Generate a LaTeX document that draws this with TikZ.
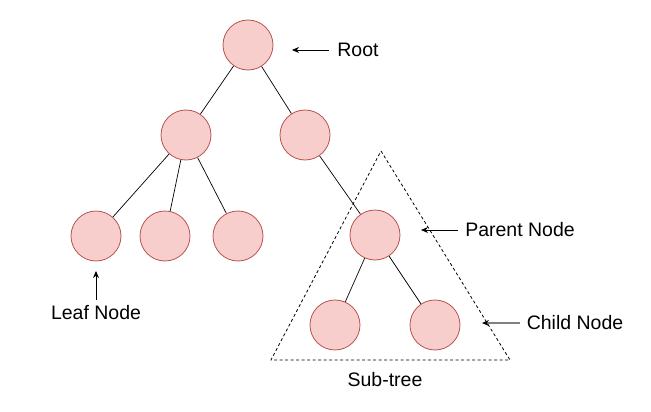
\documentclass[tikz,border=0pt]{standalone}
\usepackage{fontspec}
\setmainfont{Liberation Sans}
\usetikzlibrary{arrows.meta}
\definecolor{nodefill}{HTML}{F8CECC}
\definecolor{nodeline}{HTML}{B85450}
\definecolor{midgray}{RGB}{128,128,128}
\begin{document}
\begin{tikzpicture}[x=1pt,y=-1pt,
  treenode/.style={circle,draw=nodeline,fill=nodefill,line width=0.8pt,minimum size=50pt,inner sep=0pt},
  edge/.style={draw=black,line width=0.7pt},
  lbl/.style={font=\fontsize{19.5}{22}\selectfont,inner sep=6pt},
  pointer/.style={draw=black,line width=0.9pt,-{Stealth[length=7pt,width=6pt]}},
  subtree/.style={draw=black,line width=0.8pt,dash pattern=on 3pt off 2.5pt}]
\useasboundingbox (0,0) rectangle (651,412);
% triangle
\coordinate (apex) at (381,151);
\coordinate (bl) at (271,360);
\coordinate (br) at (510,360);
\draw[subtree] (apex) -- (br) -- (bl) -- cycle;
% nodes
\node[treenode] (root) at (248,45) {};
\node[treenode] (l1a) at (186,135) {};
\node[treenode] (l1b) at (305,135) {};
\node[treenode] (leafa) at (96,236) {};
\node[treenode] (leafb) at (165,236) {};
\node[treenode] (leafc) at (238,236) {};
\node[treenode] (parent) at (375,235) {};
\node[treenode] (childa) at (335,325) {};
\node[treenode] (childb) at (435,325) {};
% edges
\draw[edge] (root) -- (l1a);
\draw[edge] (root) -- (l1b);
\draw[edge] (l1a) -- (leafa);
\draw[edge] (l1a) -- (leafb);
\draw[edge] (l1a) -- (leafc);
\draw[edge] (l1b) -- (parent);
\draw[edge] (parent) -- (childa);
\draw[edge] (parent) -- (childb);
% labels
\node[lbl] (rootlbl) at (358,50) {Root};
\node[lbl] (parentlbl) at (520,230) {Parent Node};
\node[lbl] (childlbl) at (575,323) {Child Node};
\node[lbl] (leaflbl) at (96,313) {Leaf Node};
\node[lbl] (sublbl) at (385,380) {Sub-tree};
\coordinate (roottip) at (292,50);
\coordinate (parenttip) at (421,230);
\coordinate (childtip) at (482,323);
\coordinate (leaftip) at (96,271);
\draw[pointer] ([xshift=-2pt]rootlbl.west) -- (roottip);
\draw[pointer] ([xshift=-1pt]parentlbl.west) -- (parenttip);
\draw[draw=midgray,line width=1.5pt,-{Stealth[black,length=7pt,width=6pt]}] ([xshift=-1pt]childlbl.west) -- (childtip);
\draw[pointer] (leaflbl.north) -- (leaftip);
\end{tikzpicture}
\end{document}
